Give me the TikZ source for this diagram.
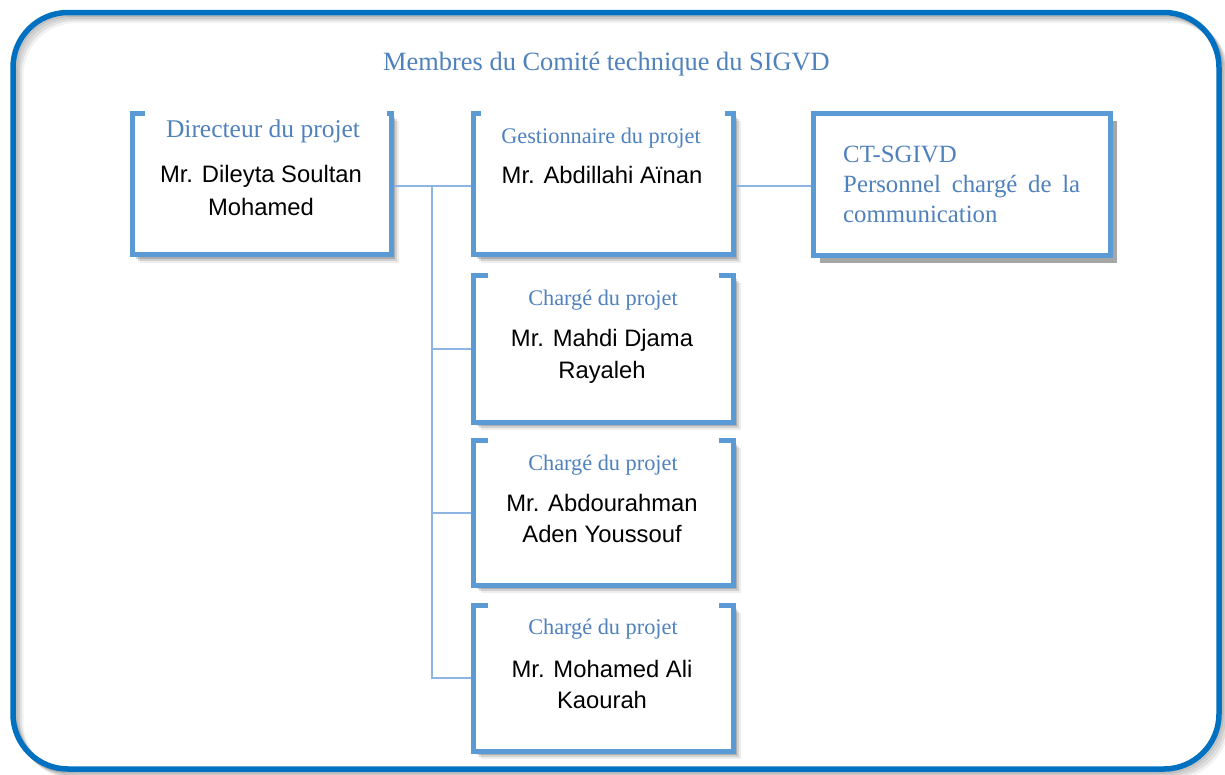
\documentclass[tikz,border=0pt]{standalone}
\usepackage{fontspec}
\setmainfont{Liberation Serif}
\newfontfamily\arialf{Liberation Sans}
\usetikzlibrary{calc}
\definecolor{frameblue}{HTML}{0070C0}
\definecolor{boxblue}{HTML}{5B9BD5}
\definecolor{connblue}{HTML}{8DB4E2}
\definecolor{textblue}{HTML}{4F81BD}
\definecolor{ctshadow}{HTML}{A6A6A6}
\newcommand{\bshadow}[1]{%
  \foreach \d/\o in {2/0.2,4/0.16,6/0.12,8/0.07}
    \fill[black,opacity=\o] ($(#1.north west)+(\d,\d)$) rectangle ($(#1.south east)+(\d,\d)$);
  \fill[white] (#1.north west) rectangle (#1.south east);}
\newcommand{\bborder}[3]{%
  \draw[border] ($(#1.north west)+(#2,0)$) -- (#1.north west) -- (#1.south west)
    -- (#1.south east) -- (#1.north east) -- ($(#1.north east)+(-#3,0)$);}
\begin{document}
\begin{tikzpicture}[x=1pt,y=-1pt,
  boxn/.style={inner sep=0pt,outer sep=0pt,draw=none},
  border/.style={draw=boxblue,line width=5pt,line join=miter},
  conn/.style={draw=connblue,line width=2pt},
  role/.style={text=textblue,font=\fontsize{22.3}{26}\selectfont,anchor=base,inner sep=0pt},
  person/.style={text=black,font=\arialf\fontsize{23.8}{27}\selectfont,anchor=base,inner sep=0pt},
  ctline/.style={text=textblue,font=\fontsize{24.8}{29}\selectfont,anchor=base west,inner sep=0pt}]
\useasboundingbox (0,0) rectangle (1225,774);
\fill[white] (0,0) rectangle (1225,774);
% outer frame with shadow
\foreach \d/\o in {2/0.14,4/0.11,6/0.08,8/0.05}
  \draw[black,opacity=\o,line width=5pt,rounded corners=55pt] (13+\d,12.5+\d) rectangle (1219+\d,769+\d);
\fill[white] (304,25) rectangle (908,95);
\draw[frameblue,line width=5.5pt,rounded corners=55pt] (13,12.5) rectangle (1219,769);

\node[anchor=base,text=textblue,font=\fontsize{26.4}{30}\selectfont,inner sep=0pt] (title) at (606.5,70) {Membres du Comité technique du SIGVD};

% boxes (geometry)
\node[boxn,minimum width=259pt,minimum height=141.5pt] (dir) at (261.5,183.75) {};
\node[boxn,minimum width=260pt,minimum height=141.5pt] (gest) at (603,183.75) {};
\node[boxn,minimum width=297pt,minimum height=142pt] (ct) at (961.5,184) {};
\node[boxn,minimum width=260pt,minimum height=147pt] (ch1) at (603,348.5) {};
\node[boxn,minimum width=260pt,minimum height=145pt] (ch2) at (603,512.5) {};
\node[boxn,minimum width=260pt,minimum height=146pt] (ch3) at (603,678) {};
\coordinate (J) at (432,186);

% shadows and fills
\bshadow{dir}\bshadow{gest}\bshadow{ch1}\bshadow{ch2}\bshadow{ch3}
\fill[ctshadow] ($(ct.north west)+(7,8)$) rectangle ($(ct.south east)+(7,8)$);
\fill[white] (ct.north west) rectangle (ct.south east);

% connectors
\draw[conn] (dir.east |- J) -- (gest.west |- J);
\draw[conn] (J) |- (ch1.west);
\draw[conn] (J) |- (ch2.west);
\draw[conn] (J) |- (ch3.west);
\draw[conn] (gest.east |- J) -- (ct.west |- J);

% borders
\bborder{dir}{13}{4}
\bborder{gest}{8}{8}
\bborder{ch1}{15}{14}
\bborder{ch2}{15}{14}
\bborder{ch3}{15}{14}
\draw[border] (ct.north west) rectangle (ct.south east);

% texts
\node[role,font=\fontsize{25.5}{30}\selectfont] (dirrole) at (263,137) {Directeur du projet};
\node[person] (dirn1) at (261,182) {Mr. Dileyta Soultan};
\node[person] (dirn2) at (261,215) {Mohamed};

\node[role] (gestrole) at (601,143) {Gestionnaire du projet};
\node[person] (gestn1) at (602,183) {Mr. Abdillahi Aïnan};

\node[role] (ch1role) at (603,305) {Chargé du projet};
\node[person] (ch1n1) at (602,346) {Mr. Mahdi Djama};
\node[person] (ch1n2) at (602,378) {Rayaleh};

\node[role] (ch2role) at (603,470) {Chargé du projet};
\node[person] (ch2n1) at (602,511) {Mr. Abdourahman};
\node[person] (ch2n2) at (602,542) {Aden Youssouf};

\node[role] (ch3role) at (603,634) {Chargé du projet};
\node[person] (ch3n1) at (602,677) {Mr. Mohamed Ali};
\node[person] (ch3n2) at (602,708) {Kaourah};

\node[ctline] (ct1) at (843,162) {CT-SGIVD};
\node[ctline] (ct2) at (843,192) {\makebox[237pt][s]{Personnel chargé de la}};
\node[ctline] (ct3) at (843,222) {communication};
\end{tikzpicture}
\end{document}
